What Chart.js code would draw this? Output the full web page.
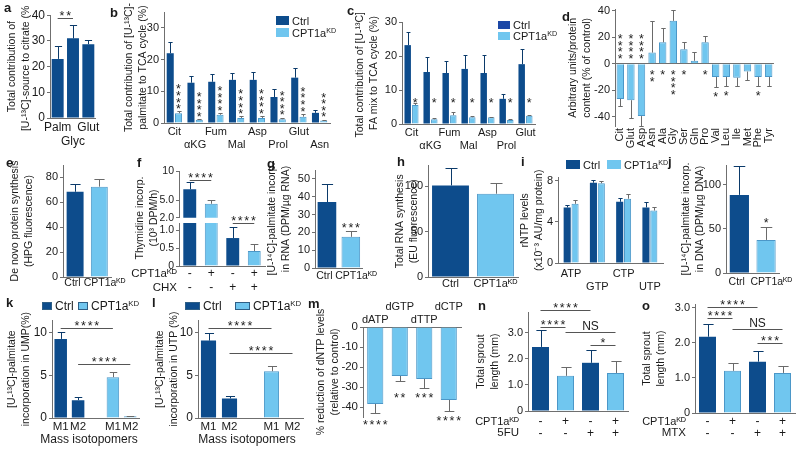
<!DOCTYPE html>
<html>
<head>
<meta charset="utf-8">
<title>CPT1a knockdown figure</title>
<script src="https://cdn.jsdelivr.net/npm/chart.js@4.4.1/dist/chart.umd.min.js"></script>
<style>
  body { margin: 0; background: #fff; }
  #fig { position: relative; width: 800px; height: 450px; overflow: hidden; background: #fff;
         font-family: "Liberation Sans", Arial, sans-serif; color: #1a1a1a; }
  #fig canvas { position: absolute; }
  .tag { position: absolute; font-weight: bold; font-size: 13px; line-height: 13px; z-index: 2; }
  .sw { position: absolute; box-sizing: border-box; z-index: 2; }
  .lg { position: absolute; line-height: 1; white-space: nowrap; z-index: 2; transform: translateY(-50%); }
  .lg sup { font-size: 65%; vertical-align: 0.5em; line-height: 0; }
</style>
</head>
<body>
<div id="fig"></div>
<script>
// Colours
const DARK = '#0d4c8c';
const LIGHT = '#70c6ef';
const EDGE = '#4b97c8';
const ERR_D = '#0b3a6a';
const ERR_L = '#6a6a6a';
const AX = '#6f6f6f';
const TXT = '#1a1a1a';
const FONT = '"Liberation Sans", Arial, sans-serif';
const KD = 'CPT1aᴷᴰ';

// a - contribution of sources to citrate
const aLabels = [['Palm'], ['', 'Glyc'], ['Glut']];
const aValues = [23, 31, 28.7];
const aSd = [5, 5, 1.8];

// b - palmitate to TCA cycle
const bLabels = [['Cit'], ['', 'αKG'], ['Fum'], ['', 'Mal'], ['Asp'], ['', 'Prol'], ['Glut'], ['', 'Asn']];
const bCtrl = [22, 12.7, 13, 13.6, 13.6, 8.2, 14.3, 3.2];
const bCtrlSd = [3.4, 2.2, 2.5, 2.3, 2.6, 2.5, 3.2, 0.9];
const bKd = [3.1, 1.0, 2.6, 1.6, 1.6, 1.2, 2.0, 0.8];
const bKdSd = [0.6, 0.3, 0.6, 0.5, 0.6, 0.5, 0.9, 0.3];

// c - FA mix to TCA cycle
const cLabels = [['Cit'], ['', 'αKG'], ['Fum'], ['', 'Mal'], ['Asp'], ['', 'Prol'], ['Glut']];
const cCtrl = [23.2, 15.3, 15, 16.2, 15, 7.4, 17.6];
const cCtrlSd = [3.8, 4.4, 3.5, 4.1, 5.3, 1.4, 4.4];
const cKd = [5.6, 1.4, 2.6, 2.0, 2.0, 1.2, 2.4];
const cKdSd = [0.6, 0.5, 1.0, 0.5, 0.2, 0.3, 0.3];

// d - amino acids (% of control)
const dLabels = ['Cit', 'Glut', 'Asp', 'Asn', 'Ala', 'Gly', 'Ser', 'Gln', 'Pro', 'Val', 'Leu', 'Ile', 'Met', 'Phe', 'Tyr'];
const dValues = [-26.5, -27.5, -39.5, 8.5, 16.3, 32.5, 11, 2.3, 16.3, -10, -10, -10.5, -5.8, -10, -10];
const dSd = [5.5, 13.5, 7.5, 24, 10.5, 8.5, 5.3, 6.5, 4.9, 7.8, 7, 6.5, 6.2, 7, 7];
const dStars = ['****', '****', '****', '**', '*', '****', '*', '', '*', '*', '*', '', '', '*', ''];

// e, g, h, j - two-group panels
const pairLabels = ['Ctrl', KD];
const pairLabelsShifted = ['Ctrl\u2002', '\u2003' + KD];
const eValues = [68.5, 72.6];
const eSd = [6.5, 6.4];
const gValues = [37, 17.5];
const gSd = [10, 3.5];
const hValues = [100.7, 91.6];
const hSd = [19, 12];
const jValues = [88.6, 37.5];
const jSd = [33, 14.8];

// f - thymidine incorporation
const fLabels = [['-', '-'], ['+', '-'], ['-', '+'], ['+', '+']];
const fValues = [6.9, 4.4, 0.78, 0.42];
const fSd = [1.2, 0.6, 0.3, 0.19];

// i - rNTP levels
const iLabels = [['ATP'], ['', 'GTP'], ['CTP'], ['', 'UTP']];
const iCtrl = [5.4, 7.8, 5.95, 5.4];
const iCtrlSd = [0.2, 0.25, 0.35, 0.5];
const iKd = [5.75, 7.75, 6.25, 5.1];
const iKdSd = [0.35, 0.2, 0.45, 0.3];

// k, l - mass isotopomers
const isoLabels = ['M1', 'M2', '', 'M1', 'M2'];
const kValues = [9.3, 2.1, null, 4.8, 0.2];
const kSd = [0.85, 0.35, null, 0.6, 0.05];
const lValues = [9.1, 2.3, null, 5.5, 0.05];
const lSd = [0.95, 0.3, null, 0.6, 0];

// m - dNTP reduction
const mLabels = [['dATP'], ['dGTP', ''], ['dTTP'], ['dCTP', '']];
const mValues = [-38.5, -24.5, -26, -36.5];
const mSd = [4.5, 2.5, 4.5, 5.5];
const mStars = ['****', '**', '***', '****'];

// n, o - sprout length
const sproutLabels = [['-', '-'], ['+', '-'], ['-', '+'], ['+', '+']];
const nValues = [2.46, 1.35, 1.85, 1.46];
const nSd = [0.64, 0.35, 0.5, 0.46];
const oValues = [2.17, 1.2, 1.46, 1.14];
const oSd = [0.37, 0.23, 0.31, 0.2];

Chart.defaults.font.family = FONT;
Chart.defaults.color = TXT;

const fig = document.getElementById('fig');
const STEP = 6.6;
const SF = 12.5;

// asterisks or short text centred on (cx, cy)
function mark(ctx, t, cx, cy, vertical) {
  if (/^\*+$/.test(t)) {
    ctx.font = SF + 'px ' + FONT;
    ctx.textAlign = 'center';
    ctx.textBaseline = 'alphabetic';
    const n = t.length;
    for (let k = 0; k < n; k++) {
      const d = (k - (n - 1) / 2) * STEP;
      ctx.fillText('*', vertical ? cx : cx + d, (vertical ? cy + d : cy) + SF * 0.575);
    }
  } else {
    ctx.font = '12px ' + FONT;
    ctx.textAlign = 'center';
    ctx.textBaseline = 'middle';
    ctx.fillText(t, cx, cy);
  }
}

// one-sided error bars from each dataset's sd array
const errorBars = {
  id: 'errorBars',
  afterDatasetsDraw(chart) {
    const { ctx, chartArea: a } = chart;
    const ys = chart.scales.y;
    ctx.save();
    ctx.beginPath();
    ctx.rect(a.left - 2, a.top - 2, a.right - a.left + 4, a.bottom - a.top + 4);
    ctx.clip();
    ctx.lineWidth = 1;
    chart.data.datasets.forEach((ds, di) => {
      if (!ds.sd) return;
      chart.getDatasetMeta(di).data.forEach((el, i) => {
        const v = ds.data[i], sd = ds.sd[i];
        if (v == null || !sd) return;
        const end = v < 0 ? v - sd : v + sd;
        const x = Math.round(el.x) + 0.5;
        const y0 = ys.getPixelForValue(v);
        const y1 = Math.round(ys.getPixelForValue(end)) + 0.5;
        const cap = Math.min(el.width * 0.3, 6);
        ctx.strokeStyle = Array.isArray(ds.errColor) ? ds.errColor[i] : ds.errColor;
        ctx.beginPath();
        ctx.moveTo(x, y0);
        ctx.lineTo(x, y1);
        ctx.moveTo(x - cap, y1);
        ctx.lineTo(x + cap, y1);
        ctx.stroke();
      });
    });
    ctx.restore();
  }
};

// significance lines, asterisks and loose labels
function notesPlugin(items, offX, offY) {
  return {
    id: 'notes',
    afterDraw(chart) {
      const ctx = chart.ctx, ys = chart.scales.y;
      const barX = a => chart.getDatasetMeta(a[0]).data[a[1]].x;
      ctx.save();
      ctx.fillStyle = TXT;
      ctx.strokeStyle = '#555';
      ctx.lineWidth = 1;
      items.forEach(n => {
        if (n.sig) {
          const x1 = barX(n.sig[0]), x2 = barX(n.sig[1]);
          const y = Math.round(ys.getPixelForValue(n.v)) + 0.5;
          ctx.beginPath();
          ctx.moveTo(x1, y);
          ctx.lineTo(x2, y);
          ctx.stroke();
          mark(ctx, n.t, (x1 + x2) / 2, y - 6, false);
        } else if (n.stars) {
          mark(ctx, n.stars, barX(n.at), ys.getPixelForValue(n.v), false);
        } else if (n.vstars) {
          const dir = n.dir || -1;
          const len = n.vstars.length * STEP;
          mark(ctx, n.vstars, barX(n.at), ys.getPixelForValue(n.v) + dir * (2 + len / 2), true);
        } else if (n.vtext) {
          ctx.font = (n.size || 10.5) + 'px ' + FONT;
          ctx.textAlign = 'center';
          ctx.textBaseline = 'middle';
          n.vtext.forEach((line, k) => {
            ctx.save();
            ctx.translate(n.x + k * 14 - offX, n.y - offY);
            ctx.rotate(-Math.PI / 2);
            ctx.fillText(line, 0, 0);
            ctx.restore();
          });
        } else if (n.text) {
          ctx.font = (n.size || 12) + 'px ' + FONT;
          ctx.textAlign = n.align || 'center';
          ctx.textBaseline = 'middle';
          ctx.fillText(n.text, n.x - offX, n.y - offY);
        }
      });
      ctx.restore();
    }
  };
}

function bars(data, sd, color, opt) {
  const many = Array.isArray(color);
  const light = c => c === LIGHT;
  return Object.assign({
    data: data,
    sd: sd,
    clip: 0,
    backgroundColor: color,
    borderColor: many ? color.map(c => light(c) ? EDGE : c) : (light(color) ? EDGE : color),
    borderWidth: many ? color.map(c => light(c) ? 1 : 0) : (light(color) ? 1 : 0),
    errColor: many ? color.map(c => light(c) ? ERR_L : ERR_D) : (light(color) ? ERR_L : ERR_D)
  }, opt);
}

// L,R,T,B = plot area on the page; yw = room left of the axis; xh = room under it
function panel(o) {
  const pt = o.pt ?? 9, pr = o.pr ?? 4, pb = o.pb ?? 0, xh = o.xh ?? 16;
  const onTop = o.xPos === 'top';
  const left = o.L - o.yw;
  const top = o.T - pt - (onTop ? xh : 0);
  const cv = document.createElement('canvas');
  cv.width = o.R + pr - left;
  cv.height = o.B + pb + (onTop ? 0 : xh) - top;
  cv.style.left = left + 'px';
  cv.style.top = top + 'px';
  fig.appendChild(cv);

  const yGrid = o.zeroLine
    ? { drawOnChartArea: true, tickLength: 3, tickColor: AX,
        color: c => (c.tick && c.tick.value === 0 ? AX : 'rgba(0,0,0,0)') }
    : { drawOnChartArea: false, tickLength: 3, color: AX };

  return new Chart(cv, {
    type: 'bar',
    data: { labels: o.labels, datasets: o.datasets },
    options: {
      responsive: false,
      animation: false,
      events: [],
      layout: { padding: { left: 0, top: pt, right: pr, bottom: pb } },
      plugins: { legend: { display: false }, tooltip: { enabled: false } },
      scales: {
        x: {
          display: o.xDisplay !== false,
          position: o.xPos || 'bottom',
          grid: { display: false, drawTicks: false },
          border: { display: o.xBorder !== false, color: AX },
          ticks: {
            font: { size: o.xfs || 11, lineHeight: o.xlh || 1.2 },
            color: TXT,
            padding: o.xpad ?? 2,
            autoSkip: false,
            minRotation: o.rot || 0,
            maxRotation: o.rot || 0
          },
          afterFit: s => { s.height = xh; }
        },
        y: {
          min: o.min,
          max: o.max,
          afterBuildTicks: s => { s.ticks = o.yTicks.map(v => ({ value: v })); },
          ticks: { font: { size: o.yfs || 11 }, color: TXT, padding: 2, callback: o.yFmt || (v => String(v)) },
          grid: yGrid,
          border: { display: true, color: AX },
          title: o.title
            ? { display: true, text: o.title, color: TXT, padding: 0, font: { size: 10.5, lineHeight: 1.35 } }
            : { display: false },
          afterFit: s => { s.width = o.yw; }
        }
      }
    },
    plugins: [errorBars, notesPlugin(o.notes || [], left, top)]
  });
}

const oneDec = v => (v === 0 ? '0' : v.toFixed(1));

// a
panel({
  L: 50, R: 98, T: 14, B: 118, yw: 45, xh: 32, pt: 8,
  min: 0, max: 40, yTicks: [0, 10, 20, 30, 40], yfs: 12, xfs: 12,
  title: ['Total contribution of', '[U-¹³C]-source to citrate (%)'],
  labels: aLabels,
  datasets: [bars(aValues, aSd, DARK, { barPercentage: 0.78, categoryPercentage: 1 })],
  notes: [{ sig: [[0, 0], [0, 1]], v: 38.8, t: '**' }]
});

// b
const grp = { barPercentage: 0.85, categoryPercentage: 0.8 };
panel({
  L: 164, R: 330, T: 12, B: 123, yw: 42, xh: 30,
  min: 0, max: 35, yTicks: [0, 10, 20, 30],
  title: ['Total contribution of [U-¹³C]-', 'palmitate to TCA cycle (%)'],
  labels: bLabels,
  datasets: [bars(bCtrl, bCtrlSd, DARK, grp), bars(bKd, bKdSd, LIGHT, grp)],
  notes: bKd.map((v, i) => ({ vstars: '****', at: [1, i], v: v + bKdSd[i], dir: -1 }))
});

// c
panel({
  L: 402, R: 535, T: 22, B: 124, yw: 49, xh: 30,
  min: 0, max: 30, yTicks: [0, 10, 20, 30],
  title: ['Total contribution of [U-¹³C]-', 'FA mix to TCA cycle (%)'],
  labels: cLabels,
  datasets: [bars(cCtrl, cCtrlSd, DARK, grp), bars(cKd, cKdSd, LIGHT, grp)],
  notes: cKd.map((v, i) => ({ stars: '*', at: [1, i], v: 7.2 }))
});

// d
panel({
  L: 615, R: 780, T: 9, B: 126, yw: 49, xh: 26, pt: 8,
  min: -47, max: 41, yTicks: [-40, -20, 0, 20, 40], zeroLine: true, xBorder: false, rot: 90,
  title: ['Arbitrary units/protein', 'content (% of control)'],
  labels: dLabels,
  datasets: [bars(dValues, dSd, LIGHT, { barPercentage: 0.7, categoryPercentage: 1 })],
  notes: dStars.map((t, i) => t ? {
    vstars: t, at: [0, i],
    v: i < 3 ? 2 : (i < 9 ? -2 : dValues[i] - dSd[i] - 1),
    dir: i < 3 ? -1 : 1
  } : null).filter(Boolean)
});

// e
panel({
  L: 63, R: 115, T: 165, B: 277, yw: 55, xh: 16, pt: 14, pr: 14, xpad: 0, xfs: 10.5,
  min: 0, max: 90, yTicks: [0, 20, 40, 60, 80],
  title: ['De novo protein synthesis', '(HPG fluorescence)'],
  labels: pairLabelsShifted,
  datasets: [bars(eValues, eSd, [DARK, LIGHT], { barPercentage: 0.7, categoryPercentage: 1 })]
});

// f, broken axis: upper and lower part
const fBar = { barPercentage: 0.6, categoryPercentage: 1 };
panel({
  L: 179, R: 265, T: 171, B: 218, yw: 43, xh: 0, pt: 8, pb: 8, xDisplay: false, yfs: 10.5,
  min: 2, max: 10, yTicks: [2, 5, 10], yFmt: v => (v === 10 ? '10' : v.toFixed(1)),
  labels: fLabels,
  datasets: [bars(fValues, fSd, [DARK, LIGHT, DARK, LIGHT], fBar)],
  notes: [{ sig: [[0, 0], [0, 1]], v: 8.5, t: '****' }]
});
panel({
  L: 179, R: 265, T: 223, B: 266, yw: 52, xh: 30, pt: 60, xfs: 12, xlh: 1.15, xpad: 1, yfs: 10.5,
  min: 0, max: 1.2, yTicks: [0, 0.5, 1], yFmt: oneDec,
  labels: fLabels,
  datasets: [bars(fValues, fSd, [DARK, LIGHT, DARK, LIGHT], fBar)],
  notes: [
    { sig: [[0, 2], [0, 3]], v: 1.2, t: '****' },
    { text: KD, x: 177, y: 274, align: 'right', size: 11.5 },
    { text: 'CHX', x: 177, y: 288, align: 'right', size: 11.5 },
    { vtext: ['Thymidine incorp.', '(10³ DPM/h)'], x: 140, y: 218 }
  ]
});

// g
panel({
  L: 315, R: 370, T: 170, B: 268, yw: 50, xh: 16, pt: 16, pr: 12, xfs: 10.5,
  min: 0, max: 55, yTicks: [0, 10, 20, 30, 40, 50],
  title: ['[U-¹⁴C]-palmitate incorp.', 'in RNA (DPM/µg RNA)'],
  labels: pairLabelsShifted,
  datasets: [bars(gValues, gSd, [DARK, LIGHT], { barPercentage: 0.78, categoryPercentage: 1 })],
  notes: [{ stars: '***', at: [0, 1], v: 24.5 }]
});

// h
panel({
  L: 428, R: 518, T: 165, B: 277, yw: 35, xh: 16, pt: 8, pr: 5, xpad: 0,
  min: 0, max: 122.5, yTicks: [0, 50, 100],
  title: ['Total RNA synthesis', '(EU fluorescence)'],
  labels: pairLabels,
  datasets: [bars(hValues, hSd, [DARK, LIGHT], { barPercentage: 0.82, categoryPercentage: 1 })]
});

// i
const gi = { barPercentage: 0.9, categoryPercentage: 0.6 };
panel({
  L: 558, R: 663, T: 177, B: 263, yw: 40, xh: 32, pt: 8, xpad: 4,
  min: 0, max: 8.3, yTicks: [0, 4, 8],
  title: ['rNTP levels', '(x10⁻³ AU/mg protein)'],
  labels: iLabels,
  datasets: [bars(iCtrl, iCtrlSd, DARK, gi), bars(iKd, iKdSd, LIGHT, gi)]
});

// j
panel({
  L: 726, R: 787, T: 165, B: 273, yw: 47, xh: 16, pt: 12, pr: 11, xpad: 3, xfs: 10.5,
  min: 0, max: 122.5, yTicks: [0, 50, 100],
  title: ['[U-¹⁴C]-palmitate incorp.', 'in DNA (DPM/µg DNA)'],
  labels: pairLabelsShifted,
  datasets: [bars(jValues, jSd, [DARK, LIGHT], { barPercentage: 0.72, categoryPercentage: 1 })],
  notes: [{ stars: '*', at: [0, 1], v: 60 }]
});

// k
const isoColors = [DARK, DARK, LIGHT, LIGHT, LIGHT];
panel({
  L: 52, R: 139, T: 319, B: 418, yw: 47, xh: 30, pt: 8, xfs: 11.5, yfs: 12, xpad: 2,
  min: 0, max: 11.5, yTicks: [0, 5, 10],
  title: ['[U-¹³C]-palmitate', 'incorporation in UMP(%)'],
  labels: isoLabels,
  datasets: [bars(kValues, kSd, isoColors, { barPercentage: 0.72, categoryPercentage: 1 })],
  notes: [
    { sig: [[0, 0], [0, 3]], v: 10.6, t: '****' },
    { sig: [[0, 1], [0, 4]], v: 6.3, t: '****' },
    { text: 'Mass isotopomers', x: 89, y: 440 }
  ]
});

// l
panel({
  L: 198, R: 303, T: 319, B: 418, yw: 45, xh: 30, pt: 8, xfs: 11.5, yfs: 12, xpad: 2,
  min: 0, max: 11.5, yTicks: [0, 5, 10],
  title: ['[U-¹³C]-palmitate', 'incorporation in UTP (%)'],
  labels: isoLabels,
  datasets: [bars(lValues, lSd, isoColors, { barPercentage: 0.72, categoryPercentage: 1 })],
  notes: [
    { sig: [[0, 0], [0, 3]], v: 10.6, t: '****' },
    { sig: [[0, 1], [0, 4]], v: 7.7, t: '****' },
    { text: 'Mass isotopomers', x: 247, y: 440 }
  ]
});

// m
panel({
  L: 363, R: 461, T: 327, B: 417, yw: 49, xh: 25, pt: 2, pb: 22, xPos: 'top', xpad: 0, yfs: 11.5,
  min: -45, max: 0, yTicks: [0, -10, -20, -30, -40],
  title: ['% reduction of dNTP levels', '(relative to control)'],
  labels: mLabels,
  datasets: [bars(mValues, mSd, LIGHT, { barPercentage: 0.66, categoryPercentage: 1 })],
  notes: mStars.map((t, i) => ({ stars: t, at: [0, i], v: [-47.5, -34, -34, -45.5][i] }))
});

// n
const sproutColors = [DARK, LIGHT, DARK, LIGHT];
panel({
  L: 528, R: 628, T: 312, B: 411, yw: 54, xh: 28, pt: 14, xfs: 12, xlh: 0.96, xpad: 5,
  min: 0, max: 3.8, yTicks: [0, 1, 2, 3], yFmt: oneDec,
  title: ['Total sprout', 'length (mm)'],
  labels: sproutLabels,
  datasets: [bars(nValues, nSd, sproutColors, { barPercentage: 0.68, categoryPercentage: 1 })],
  notes: [
    { sig: [[0, 0], [0, 2]], v: 3.88, t: '****' },
    { sig: [[0, 0], [0, 1]], v: 3.23, t: '****' },
    { sig: [[0, 1], [0, 3]], v: 3.04, t: 'NS' },
    { sig: [[0, 2], [0, 3]], v: 2.54, t: '*' },
    { text: KD, x: 519, y: 422, align: 'right', size: 11 },
    { text: '5FU', x: 519, y: 433, align: 'right', size: 11.5 }
  ]
});

// o
panel({
  L: 695, R: 795, T: 304, B: 413, yw: 55, xh: 28, pt: 12, pr: 3, xfs: 12, xlh: 0.96, xpad: 3,
  min: 0, max: 3.1, yTicks: [0, 1, 2, 3], yFmt: oneDec,
  title: ['Total sprout', 'length (mm)'],
  labels: sproutLabels,
  datasets: [bars(oValues, oSd, sproutColors, { barPercentage: 0.68, categoryPercentage: 1 })],
  notes: [
    { sig: [[0, 0], [0, 2]], v: 3.02, t: '****' },
    { sig: [[0, 0], [0, 1]], v: 2.69, t: '****' },
    { sig: [[0, 1], [0, 3]], v: 2.4, t: 'NS' },
    { sig: [[0, 2], [0, 3]], v: 2.0, t: '***' },
    { text: KD, x: 686, y: 422, align: 'right', size: 11 },
    { text: 'MTX', x: 686, y: 433, align: 'right', size: 11.5 }
  ]
});

// html extras: panel letters and legends
function addDiv(cls, css, html) {
  const d = document.createElement('div');
  d.className = cls;
  Object.assign(d.style, css);
  d.innerHTML = html;
  fig.appendChild(d);
}

const tags = [['a', 4, 1], ['b', 110, 6], ['c', 347, 4], ['d', 562, 10], ['e', 6, 156], ['f', 137, 156],
  ['g', 267, 157], ['h', 397, 155], ['i', 521, 155], ['j', 668, 155], ['k', 6, 296], ['l', 152, 296],
  ['m', 308, 297], ['n', 478, 299], ['o', 642, 299]];
tags.forEach(t => addDiv('tag', { left: t[1] + 'px', top: t[2] + 'px' }, t[0]));

function key(x, y, w, h, color, label, fs, edge) {
  addDiv('sw', { left: x + 'px', top: y + 'px', width: w + 'px', height: h + 'px', background: color,
    border: edge ? '1px solid #2f5f86' : 'none' }, '');
  addDiv('lg', { left: (x + w + 3) + 'px', top: (y + h / 2) + 'px', fontSize: fs + 'px' }, label);
}
const kdHtml = 'CPT1a<sup>KD</sup>';
key(276, 16, 13, 9, DARK, 'Ctrl', 11);
key(276, 28, 13, 9, LIGHT, kdHtml, 11);
key(498, 21, 12, 8, '#1c47a6', 'Ctrl', 11);
key(498, 32, 12, 8, LIGHT, kdHtml, 11);
key(566, 160, 14, 9, DARK, 'Ctrl', 11);
key(607, 160, 14, 9, LIGHT, kdHtml, 11);
key(42, 302, 10, 8, DARK, 'Ctrl', 12, true);
key(78, 302, 10, 8, LIGHT, kdHtml, 12, true);
key(185, 302, 15, 8, DARK, 'Ctrl', 12, true);
key(235, 302, 15, 8, LIGHT, kdHtml, 12, true);
</script>
</body>
</html>
